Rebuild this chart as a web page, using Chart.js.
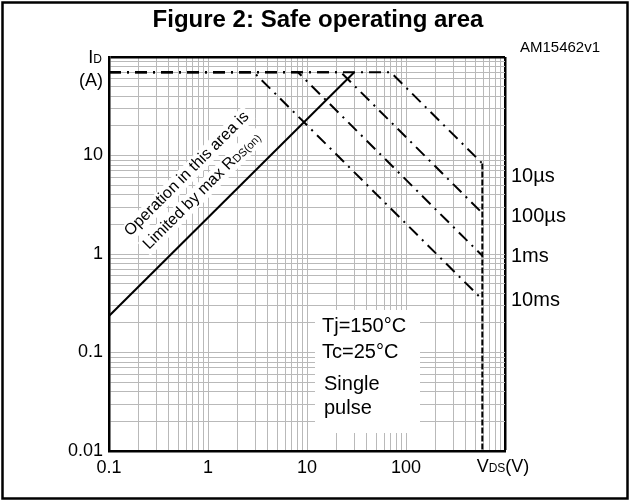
<!DOCTYPE html>
<html>
<head>
<meta charset="utf-8">
<script src="https://cdn.jsdelivr.net/npm/chart.js@4.4.1/dist/chart.umd.min.js"></script>
<style>
  html, body { margin: 0; padding: 0; background: #fff; }
  #wrap { width: 630px; height: 502px; }
</style>
</head>
<body>
<div id="wrap"><canvas id="soa" width="630" height="502"></canvas></div>
<script>
// Valores (VDS en V, ID en A)
const vdsRds = [0.1, 30];
const idRds = [0.235, 70];

const pulseNames = ['10µs', '100µs', '1ms', '10ms'];
const vdsPulse = [
  [0.1, 70, 590, 590],
  [0.1, 22, 590],
  [0.1, 8.1, 590],
  [0.1, 2.9, 590]
];
const idPulse = [
  [70, 70, 8.3, 0.01],
  [70, 70, 2.6],
  [70, 70, 0.96],
  [70, 70, 0.345]
];

const xTickLabels = ['0.1', '1', '10', '100'];
const yTickLabels = ['0.01', '0.1', '1', '10'];
const notes = ['Tj=150°C', 'Tc=25°C', 'Single', 'pulse'];

const FONT = "'Liberation Sans', Arial, sans-serif";

// lineas de rejilla: 1..9 por decada
function gridValues(min, max) {
  const out = [];
  for (let e = Math.round(Math.log10(min)); e < Math.round(Math.log10(max)); e++) {
    for (let k = 1; k <= 9; k++) out.push(k * Math.pow(10, e));
  }
  out.push(max);
  return out;
}

function labelFor(list, value) {
  const idx = list.findIndex(l => Math.abs(parseFloat(l) - value) < value * 1e-6);
  return idx === -1 ? '' : list[idx];
}

function toPoints(xs, ys) {
  return xs.map((x, i) => ({ x: x, y: ys[i] }));
}

// texto con subindice, partes = [[texto, tamaño, desplazamiento]]
function drawParts(ctx, parts, x, y, align) {
  let total = 0;
  parts.forEach(p => { ctx.font = p[1] + 'px ' + FONT; total += ctx.measureText(p[0]).width; });
  let cx = align === 'right' ? x - total : (align === 'center' ? x - total / 2 : x);
  ctx.textAlign = 'left';
  parts.forEach(p => {
    ctx.font = p[1] + 'px ' + FONT;
    ctx.fillText(p[0], cx, y + (p[2] || 0));
    cx += ctx.measureText(p[0]).width;
  });
  return total;
}

const datasets = [{
  data: toPoints(vdsRds, idRds),
  borderColor: '#000',
  borderWidth: 2,
  pointRadius: 0,
  fill: false
}];
pulseNames.forEach((name, i) => {
  datasets.push({
    label: name,
    data: toPoints(vdsPulse[i], idPulse[i]),
    borderColor: '#000',
    borderWidth: 2,
    borderDash: [12, 6, 2, 6],
    pointRadius: 0,
    fill: false,
    segment: {
      borderDash: ctx => (ctx.p0.parsed.x === ctx.p1.parsed.x ? [6, 2] : undefined)
    }
  });
});

const decorPlugin = {
  id: 'decor',
  beforeDatasetsDraw(chart) {
    const ctx = chart.ctx;
    const a = chart.chartArea;
    ctx.save();
    // cuadro blanco de condiciones
    ctx.fillStyle = '#fff';
    ctx.fillRect(a.left + 206, 310, 105, 123);
    ctx.fillStyle = '#000';
    ctx.textBaseline = 'alphabetic';
    drawParts(ctx, [[notes[0], 20]], a.left + 213, 332, 'left');
    drawParts(ctx, [[notes[1], 20]], a.left + 213, 358, 'left');
    drawParts(ctx, [[notes[2], 20]], a.left + 215, 390, 'left');
    drawParts(ctx, [[notes[3], 20]], a.left + 215, 414, 'left');

    // texto girado sobre la linea RDS(on)
    const lines = [
      { parts: [['Operation in this area is', 16]], cx: 190, cy: 177 },
      { parts: [['Limited by max R', 16], ['DS(on)', 11, 1]], cx: 205, cy: 194 }
    ];
    lines.forEach(l => {
      ctx.save();
      ctx.translate(l.cx, l.cy);
      ctx.rotate(-Math.PI / 4);
      let w = 0;
      l.parts.forEach(p => { ctx.font = p[1] + 'px ' + FONT; w += ctx.measureText(p[0]).width; });
      ctx.fillStyle = '#fff';
      ctx.fillRect(-w / 2 - 3, -13, w + 6, 18);
      ctx.fillStyle = '#000';
      drawParts(ctx, l.parts, 0, 0, 'center');
      ctx.restore();
    });
    ctx.restore();
  },
  afterDraw(chart) {
    const ctx = chart.ctx;
    const a = chart.chartArea;
    ctx.save();
    ctx.fillStyle = '#000';
    ctx.textBaseline = 'alphabetic';

    // titulo
    ctx.font = 'bold 24px ' + FONT;
    ctx.textAlign = 'center';
    ctx.fillText('Figure 2: Safe operating area', 318, 27);

    ctx.font = '15px ' + FONT;
    ctx.textAlign = 'left';
    ctx.fillText('AM15462v1', 520, 52);

    // etiquetas de ejes
    drawParts(ctx, [['I', 18], ['D', 12]], a.left - 7, 63, 'right');
    drawParts(ctx, [['(A)', 18]], a.left - 6, 86, 'right');
    drawParts(ctx, [['V', 18], ['DS', 12], ['(V)', 18]], a.right - 2, 472, 'center');

    // nombres de las curvas de pulso
    const ys = [182, 222, 262, 306];
    pulseNames.forEach((n, i) => drawParts(ctx, [[n, 20]], a.right + 6, ys[i], 'left'));

    // marco exterior
    ctx.strokeStyle = '#000';
    ctx.lineWidth = 2.5;
    ctx.strokeRect(2.5, 2.5, 625, 496);
    ctx.restore();
  }
};

const gridColor = '#b9b9b9';

new Chart(document.getElementById('soa'), {
  type: 'line',
  data: { datasets: datasets },
  plugins: [decorPlugin],
  options: {
    responsive: false,
    animation: false,
    events: [],
    layout: { padding: { left: 59, right: 125, top: 57, bottom: 11 } },
    plugins: {
      legend: { display: false },
      tooltip: { enabled: false },
      title: { display: false }
    },
    scales: {
      x: {
        type: 'logarithmic',
        min: 0.1,
        max: 1000,
        afterBuildTicks: s => { s.ticks = gridValues(0.1, 1000).map(v => ({ value: v })); },
        afterFit: s => { s.height = 40; },
        grid: {
          drawTicks: false,
          lineWidth: c => (c.tick && c.tick.value === 1000 ? 2.5 : 1),
          color: c => (c.tick && c.tick.value === 1000 ? '#000' : gridColor)
        },
        border: { color: '#000', width: 2.5 },
        ticks: {
          autoSkip: false,
          maxRotation: 0,
          padding: 6,
          color: '#000',
          font: { family: FONT, size: 18 },
          callback: v => labelFor(xTickLabels, v)
        }
      },
      y: {
        type: 'logarithmic',
        min: 0.01,
        max: 100,
        afterBuildTicks: s => { s.ticks = gridValues(0.01, 100).map(v => ({ value: v })); },
        afterFit: s => { s.width = 50; },
        grid: {
          drawTicks: false,
          lineWidth: c => (c.tick && c.tick.value === 100 ? 2.5 : 1),
          color: c => (c.tick && c.tick.value === 100 ? '#000' : gridColor)
        },
        border: { color: '#000', width: 2.5 },
        ticks: {
          autoSkip: false,
          padding: 6,
          color: '#000',
          font: { family: FONT, size: 18 },
          callback: v => labelFor(yTickLabels, v)
        }
      }
    }
  }
});
</script>
</body>
</html>
